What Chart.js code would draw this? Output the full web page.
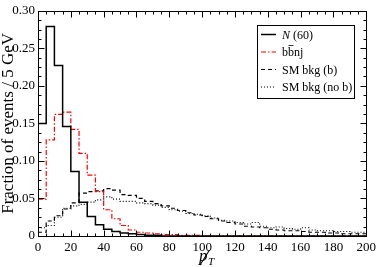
<!DOCTYPE html>
<html>
<head>
<meta charset="utf-8">
<script src="https://cdn.jsdelivr.net/npm/chart.js@4/dist/chart.umd.min.js"></script>
<style>
html, body { margin: 0; padding: 0; background: #fff; }
#wrap { width: 380px; height: 267px; }
</style>
</head>
<body>
<div id="wrap"><canvas id="c"></canvas></div>
<script>
// histogram bins: 5 GeV wide, 0 .. 200
const binWidth = 5;
const xMax = 200;

// fraction of events per bin
const n60 = [0.150, 0.279, 0.227, 0.146, 0.086, 0.045, 0.026, 0.015, 0.009, 0.006,
             0.004, 0.003, 0.002, 0.001, 0.001, 0, 0, 0, 0, 0,
             0, 0, 0, 0, 0, 0, 0, 0, 0, 0,
             0, 0, 0, 0, 0, 0, 0, 0, 0, 0];
const bbnj = [0.049, 0.128, 0.162, 0.165, 0.142, 0.110, 0.081, 0.059, 0.035, 0.023,
              0.014, 0.008, 0.005, 0.004, 0.003, 0.002, 0.002, 0.001, 0.001, 0.001,
              0, 0, 0, 0, 0, 0, 0, 0, 0, 0,
              0, 0, 0, 0, 0, 0, 0, 0, 0, 0];
const smB = [0.005, 0.020, 0.027, 0.036, 0.044, 0.057, 0.059, 0.060, 0.063, 0.061,
             0.055, 0.054, 0.050, 0.046, 0.043, 0.040, 0.037, 0.034, 0.031, 0.028,
             0.026, 0.023, 0.020, 0.018, 0.016, 0.013, 0.012, 0.011, 0.009, 0.008,
             0.007, 0.007, 0.006, 0.005, 0.005, 0.004, 0.004, 0.003, 0.003, 0.003];
const smNoB = [0.011, 0.014, 0.025, 0.037, 0.040, 0.042, 0.045, 0.048, 0.052, 0.049,
               0.046, 0.046, 0.044, 0.043, 0.041, 0.038, 0.035, 0.033, 0.030, 0.029,
               0.027, 0.024, 0.021, 0.020, 0.018, 0.016, 0.018, 0.013, 0.011, 0.012,
               0.010, 0.009, 0.011, 0.008, 0.007, 0.007, 0.006, 0.006, 0.005, 0.005];

const seriesLabels = ['N (60)', 'bbnj', 'SM bkg (b)', 'SM bkg (no b)'];

// step points: each bin's value starts at its low edge, last one closes at xMax
function toSteps(values) {
    const pts = values.map((v, i) => ({x: i * binWidth, y: v}));
    pts.push({x: xMax, y: values[values.length - 1]});
    return pts;
}

const serif = '"Liberation Serif", "DejaVu Serif", serif';

// frame with inward ticks on all four sides, legend box and the x title
const decorations = {
    id: 'decorations',
    afterDraw(chart) {
        const ctx = chart.ctx;
        const a = chart.chartArea;
        const xs = chart.scales.x, ys = chart.scales.y;
        const L = Math.round(a.left) + 0.5, R = Math.round(a.right) + 0.5;
        const T = Math.round(a.top) + 0.5, B = Math.round(a.bottom) + 0.5;
        ctx.save();
        ctx.strokeStyle = '#000';
        ctx.lineWidth = 1;
        ctx.setLineDash([]);
        ctx.strokeRect(L, T, R - L, B - T);

        ctx.beginPath();
        for (let v = 5; v < xMax; v += 5) {
            const px = Math.round(xs.getPixelForValue(v)) + 0.5;
            const len = v % 20 === 0 ? 6 : 3;
            ctx.moveTo(px, B); ctx.lineTo(px, B - len);
            ctx.moveTo(px, T); ctx.lineTo(px, T + len);
        }
        for (let i = 1; i < 24; i++) {
            const py = Math.round(ys.getPixelForValue(i * 0.0125)) + 0.5;
            const len = i % 4 === 0 ? 6 : 3;
            ctx.moveTo(L, py); ctx.lineTo(L + len, py);
            ctx.moveTo(R, py); ctx.lineTo(R - len, py);
        }
        ctx.stroke();

        // legend
        const bx = 257.5, by = 25.5, bw = 97, bh = 73;
        ctx.fillStyle = '#fff';
        ctx.fillRect(bx, by, bw, bh);
        ctx.strokeRect(bx, by, bw, bh);
        ctx.textBaseline = 'alphabetic';
        ctx.textAlign = 'left';
        chart.data.datasets.forEach((ds, i) => {
            const y = 38.5 + i * 17.5;
            ctx.beginPath();
            ctx.strokeStyle = ds.borderColor;
            ctx.lineWidth = ds.borderWidth;
            ctx.setLineDash(ds.borderDash || []);
            ctx.moveTo(261, y - 4);
            ctx.lineTo(276, y - 4);
            ctx.stroke();
            ctx.setLineDash([]);
            ctx.fillStyle = '#000';
            let tx = 282;
            if (i === 0) {
                ctx.font = 'italic 12px ' + serif;
                ctx.fillText('N', tx, y);
                tx += ctx.measureText('N').width;
                ctx.font = '12px ' + serif;
                ctx.fillText(' (60)', tx, y);
            } else if (i === 1) {
                ctx.font = '12px ' + serif;
                const wb = ctx.measureText('b').width;
                ctx.fillText('b', tx, y);
                ctx.fillText('b', tx + wb, y);
                ctx.strokeStyle = '#000';
                ctx.lineWidth = 0.8;
                ctx.beginPath();
                ctx.moveTo(tx + wb + 0.5, y - 10.5);
                ctx.lineTo(tx + 2 * wb - 0.5, y - 10.5);
                ctx.stroke();
                ctx.fillText('nj', tx + 2 * wb, y);
            } else {
                ctx.font = '12px ' + serif;
                ctx.fillText(ds.label, tx, y);
            }
        });

        // x title: slashed p with subscript T
        ctx.fillStyle = '#000';
        ctx.font = 'italic 17px ' + serif;
        const px0 = 199, base = 261;
        ctx.fillText('p', px0, base);
        const pw = ctx.measureText('p').width;
        ctx.strokeStyle = '#000';
        ctx.lineWidth = 1.1;
        ctx.beginPath();
        ctx.moveTo(px0 + 1, base + 4);
        ctx.lineTo(px0 + pw + 2, base - 11);
        ctx.stroke();
        ctx.font = 'italic 11px ' + serif;
        ctx.fillText('T', px0 + pw + 0.5, base + 3.5);
        ctx.restore();
    }
};

new Chart(document.getElementById('c'), {
    type: 'line',
    data: {
        datasets: [
            {label: seriesLabels[0], data: toSteps(n60), borderColor: '#000000', borderWidth: 1.5, borderDash: []},
            {label: seriesLabels[1], data: toSteps(bbnj), borderColor: '#ff0000', borderWidth: 1.2, borderDash: [5, 2, 1.5, 2]},
            {label: seriesLabels[2], data: toSteps(smB), borderColor: '#000000', borderWidth: 1.2, borderDash: [4, 3]},
            {label: seriesLabels[3], data: toSteps(smNoB), borderColor: '#000000', borderWidth: 1.2, borderDash: [1, 2]}
        ]
    },
    options: {
        responsive: true,
        maintainAspectRatio: false,
        animation: false,
        events: [],
        layout: {padding: {top: 4, right: 9, left: 0, bottom: 0}},
        elements: {
            point: {radius: 0},
            line: {stepped: true, tension: 0, fill: false}
        },
        plugins: {legend: {display: false}, tooltip: {enabled: false}},
        scales: {
            x: {
                type: 'linear', min: 0, max: xMax,
                grid: {display: false, drawTicks: false},
                border: {display: false},
                ticks: {stepSize: 20, padding: 4, color: '#000', font: {family: serif, size: 13}},
                afterFit: s => { s.height = 31; }
            },
            y: {
                min: 0, max: 0.3,
                grid: {display: false, drawTicks: false},
                border: {display: false},
                ticks: {
                    stepSize: 0.05, padding: 3, color: '#000', font: {family: serif, size: 13},
                    callback: v => v === 0 ? '0' : v.toFixed(2)
                },
                title: {display: true, text: 'Fraction of events / 5 GeV', color: '#000',
                        font: {family: serif, size: 17, lineHeight: 1}, padding: 0},
                afterFit: s => { s.width = 38; }
            }
        }
    },
    plugins: [decorations]
});
</script>
</body>
</html>
